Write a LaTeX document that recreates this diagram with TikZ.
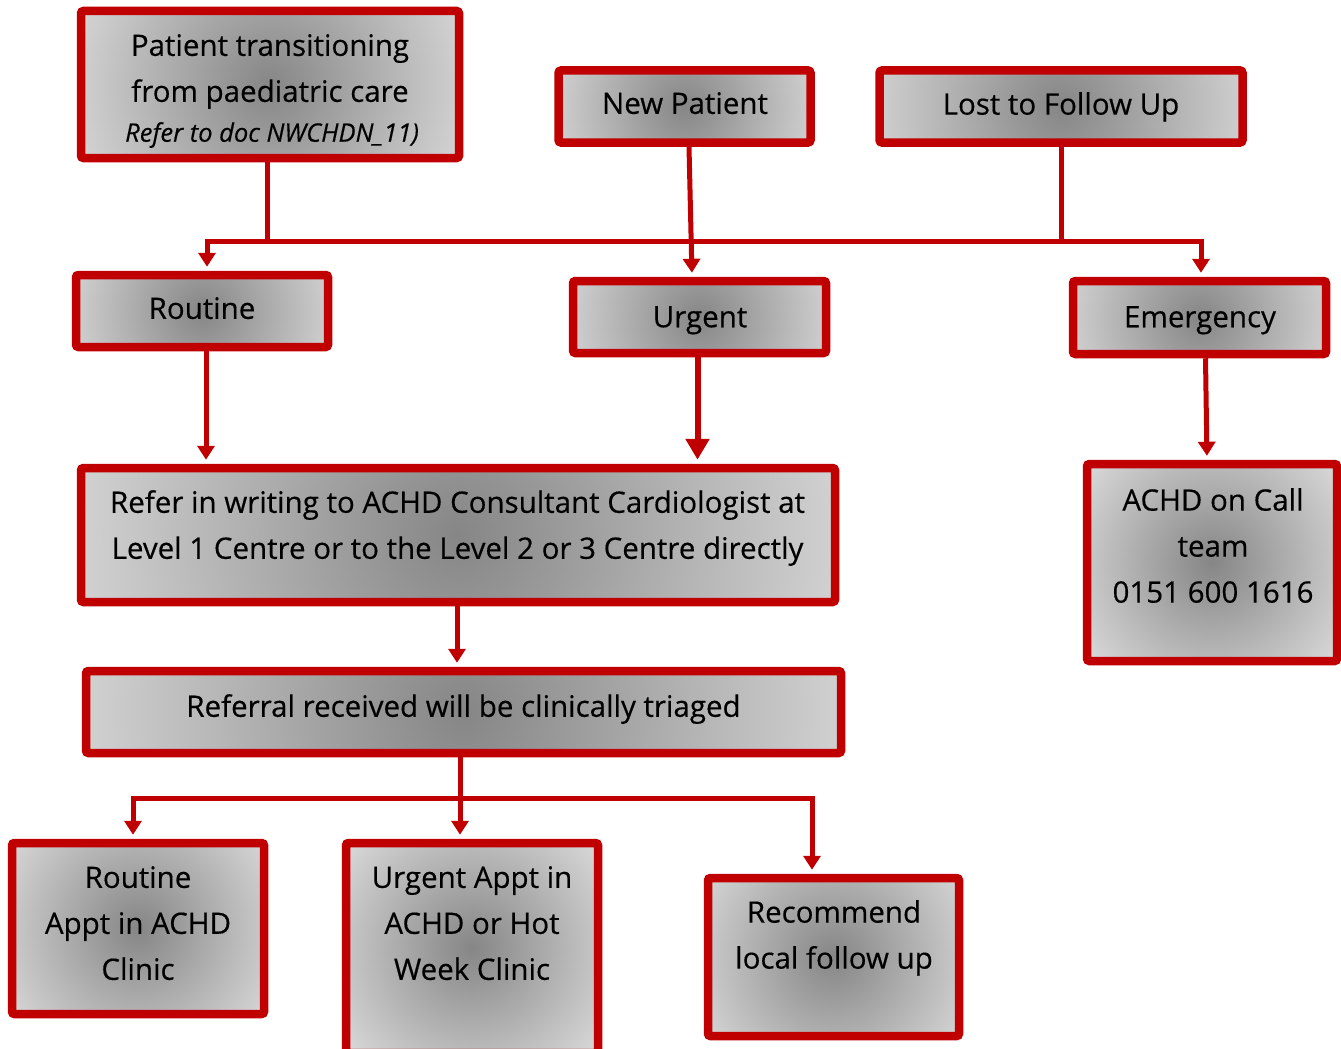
\documentclass[tikz,border=0pt]{standalone}
\usepackage{fontspec}
\setmainfont{Open Sans}[FakeBold=0.4]
\usetikzlibrary{arrows.meta}
\definecolor{bred}{RGB}{192,0,0}
\definecolor{gdark}{RGB}{134,134,134}
\definecolor{glight}{RGB}{213,213,213}
\pgfdeclareradialshading{boxshade}{\pgfpoint{0bp}{0bp}}{color(0bp)=(gdark); color(25bp)=(glight); color(50bp)=(glight)}
\begin{document}
\begin{tikzpicture}[x=1pt,y=-1pt,
  box/.style={draw=bred, line width=8.5pt, rounded corners=2.5pt, fill=glight, rectangle, inner sep=0pt,
    path picture={\shade[shading=boxshade] (path picture bounding box.center) circle (#1);}},
  txt/.style={font=\fontsize{29.5}{46}\selectfont, align=center, inner sep=0pt, anchor=north},
  conn/.style={draw=bred, line width=5pt},
  arr/.style={conn, -{Triangle[length=14pt,width=17pt]}, shorten >=4pt},
  bigarr/.style={draw=bred, line width=6pt, -{Triangle[length=21pt,width=23pt]}, shorten >=4pt}]
\useasboundingbox (0,0) rectangle (1341,1049);

% boxes
\node[box=205pt, minimum width=378pt, minimum height=147pt] (pat) at (270,84.5) {};
\node[box=140pt, minimum width=252pt, minimum height=72pt] (newp) at (684.5,106.5) {};
\node[box=200pt, minimum width=363pt, minimum height=72pt] (lost) at (1061,106.5) {};
\node[box=140pt, minimum width=252pt, minimum height=72pt] (rout) at (202,311) {};
\node[box=140pt, minimum width=253pt, minimum height=72pt] (urg) at (699.5,317) {};
\node[box=140pt, minimum width=253pt, minimum height=73pt] (emer) at (1199.5,317.5) {};
\node[box=400pt, minimum width=754pt, minimum height=134pt] (refer) at (458,535) {};
\node[box=150pt, minimum width=250pt, minimum height=197pt] (achd) at (1212,562.5) {};
\node[box=400pt, minimum width=755pt, minimum height=82pt] (recv) at (463.5,712) {};
\node[box=150pt, minimum width=252pt, minimum height=171pt] (rapp) at (138,928.5) {};
\node[box=155pt, minimum width=252pt, minimum height=210pt] (uapp) at (472,948) {};
\node[box=150pt, minimum width=251pt, minimum height=158pt] (reco) at (833.5,957) {};

% texts
\node[txt] (tpat) at (270,34) {Patient transitioning\\from paediatric care};
\node[txt, font=\fontsize{25.5}{30}\selectfont\itshape] (tpatref) at (272,122) {Refer to doc NWCHDN\_11)};
\node[txt] (tnewp) at (685,92) {New Patient};
\node[txt] (tlost) at (1061,92) {Lost to Follow Up};
\node[txt] (trout) at (202,297) {Routine};
\node[txt] (turg) at (700,306) {Urgent};
\node[txt] (temer) at (1200,306) {Emergency};
\node[txt] (trefer) at (457.5,490) {Refer in writing to ACHD Consultant Cardiologist at\\Level 1 Centre or to the Level 2 or 3 Centre directly};
\node[txt] (tachd) at (1213,488) {ACHD on Call\\team\\0151 600 1616};
\node[txt] (trecv) at (463.5,694) {Referral received will be clinically triaged};
\node[txt] (trapp) at (138,866) {Routine\\Appt in ACHD\\Clinic};
\node[txt] (tuapp) at (472,866) {Urgent Appt in\\ACHD or Hot\\Week Clinic};
\node[txt] (treco) at (834,900) {Recommend\\local follow up};

% connectors
\coordinate (bus1) at (207,241);
\coordinate (bus2) at (1201,241);
\draw[conn] ([xshift=-3pt]pat.south) -- ([xshift=-3pt]pat.south |- bus1);
\draw[conn] (lost.south) -- (lost.south |- bus1);
\draw[arr] (bus2) -- (bus1) -- (bus1 |- rout.north);
\draw[arr] (bus1) -- (bus2) -- (bus2 |- emer.north);
\draw[arr] ([xshift=4.5pt]newp.south) -- ([xshift=-7.5pt]urg.north);
\draw[arr] ([xshift=4pt]rout.south) -- ([xshift=4pt]rout.south |- refer.north);
\draw[bigarr] ([xshift=-2pt]urg.south) -- ([xshift=-2pt]urg.south |- refer.north);
\draw[arr] ([xshift=6pt]emer.south) -- ([xshift=-5pt]achd.north);
\draw[arr] ([xshift=-1pt]refer.south) -- ([xshift=-1pt]refer.south |- recv.north);

\coordinate (bus3) at (133,798);
\coordinate (bus4) at (812,798);
\draw[arr] ([xshift=-3.5pt]recv.south) -- ([xshift=-3.5pt]recv.south |- uapp.north);
\draw[arr] (bus4) -- (bus3) -- (bus3 |- rapp.north);
\draw[arr] (bus3) -- (bus4) -- (bus4 |- reco.north);
\end{tikzpicture}
\end{document}
